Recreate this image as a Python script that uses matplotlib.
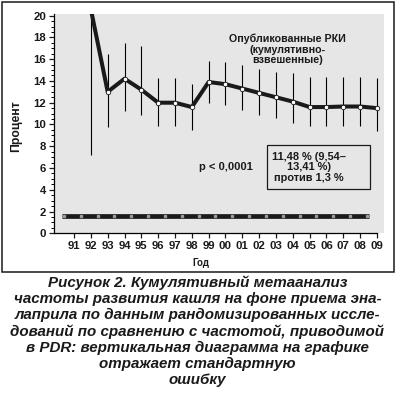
import matplotlib
matplotlib.use("Agg")
import matplotlib.pyplot as plt
from matplotlib.patches import Rectangle
from matplotlib.ticker import MultipleLocator

plt.rcParams["font.family"] = ["Liberation Sans", "DejaVu Sans"]

# cumulative RCT estimates, percent (year 92..109 = 1992..2009)
years = [92, 93, 94, 95, 96, 97, 98, 99, 100, 101, 102, 103, 104, 105, 106, 107, 108, 109]
cough = [20.6, 13.0, 14.2, 13.2, 12.0, 12.0, 11.6, 13.9, 13.7, 13.3, 12.9, 12.5, 12.1, 11.6, 11.6, 11.65, 11.65, 11.5]
err_low = [7.2, 9.8, 11.2, 10.9, 9.9, 9.9, 9.5, 12.0, 11.8, 11.3, 10.9, 10.55, 10.15, 9.85, 9.85, 9.85, 9.85, 9.4]
err_high = [34.0, 16.5, 17.5, 17.2, 14.25, 14.25, 13.7, 15.85, 15.7, 15.45, 15.1, 14.85, 14.7, 14.4, 14.4, 14.4, 14.4, 14.25]

# PDR reference rate
pdr_start, pdr_end = 90.3, 108.5
pdr_marks = [90.4 + i for i in range(19)]
pdr_value = 1.6

tick_years = list(range(91, 110))
tick_labels = ["91", "92", "93", "94", "95", "96", "97", "98", "99",
               "00", "01", "02", "03", "04", "05", "06", "07", "08", "09"]

fig = plt.figure(figsize=(3.95, 3.93), dpi=100)
ax = fig.add_axes([54 / 395, 1 - 233.3 / 393, 330 / 395, (233.3 - 14) / 393])
ax.set_facecolor("#e6e6e6")

ax.vlines(years, err_low, err_high, color="black", lw=0.8, zorder=2)
ax.plot(years, cough, color="#1a1a1a", lw=2.9, zorder=3,
        marker="o", markersize=3.2, markerfacecolor="white",
        markeredgecolor="#1a1a1a", markeredgewidth=0.6)

ax.plot([pdr_start, pdr_end], [pdr_value, pdr_value], color="#1a1a1a", lw=3.4,
        solid_capstyle="butt", zorder=3)
ax.plot(pdr_marks, [pdr_value] * len(pdr_marks), ls="none", marker="s",
        markersize=1.6, color="#9a9a9a", zorder=4)

ax.set_xlim(89.81, 109.42)
ax.set_ylim(0, 20.15)
ax.set_xticks(tick_years)
ax.set_xticklabels(tick_labels)
ax.yaxis.set_major_locator(MultipleLocator(2))
ax.yaxis.set_minor_locator(MultipleLocator(0.5))
ax.tick_params(axis="both", which="major", length=3.6, width=0.9, labelsize=8.2,
               colors="#1a1a1a", pad=2)
ax.tick_params(axis="y", which="minor", length=2.3, width=0.7)
for lab in ax.get_xticklabels() + ax.get_yticklabels():
    lab.set_fontweight("bold")

for s in ["top", "right"]:
    ax.spines[s].set_visible(False)
ax.spines["left"].set_linewidth(0.9)
ax.spines["bottom"].set_linewidth(0.9)
ax.spines["bottom"].set_bounds(89.81, 109)

ax.set_ylabel("Процент", fontsize=8.8, fontweight="bold", color="#1a1a1a")
ax.yaxis.set_label_coords((22 - 54) / 330, 0.49)

ax.text(103.7, 16.9, "Опубликованные РКИ\n(кумулятивно-\nвзвешенные)",
        ha="center", va="center", fontsize=7.7, fontweight="bold",
        color="#1a1a1a", linespacing=1.05)
ax.text(100.0, 6.1, "p < 0,0001", ha="center", va="center", fontsize=8.0,
        fontweight="bold", color="#1a1a1a")
ax.text(104.96, 6.08, "11,48 % (9,54–\n13,41 %)\nпротив 1,3 %", ha="center",
        va="center", fontsize=7.9, fontweight="bold", color="#1a1a1a",
        linespacing=1.05)
ax.add_patch(Rectangle((102.47, 4.06), 6.12, 4.04, fill=False,
                       edgecolor="#1a1a1a", linewidth=0.9, zorder=5))

fig.text(201 / 395, 1 - 263 / 393, "Год", ha="center", va="center",
         fontsize=7, fontweight="bold", color="#1a1a1a")

fig.patches.append(Rectangle((1.5 / 395, 1 - 271.5 / 393), 392 / 395, 269.5 / 393,
                             transform=fig.transFigure, fill=False,
                             edgecolor="#1a1a1a", linewidth=1.1))

caption = ("Рисунок 2. Кумулятивный метаанализ\n"
           "частоты развития кашля на фоне приема эна-\n"
           "лаприла по данным рандомизированных иссле-\n"
           "дований по сравнению с частотой, приводимой\n"
           "в PDR: вертикальная диаграмма на графике\n"
           "отражает стандартную\n"
           "ошибку")
fig.text(0.5, 1 - 275 / 393, caption, ha="center", va="top", fontsize=10.9,
         fontweight="bold", fontstyle="italic", color="#1a1a1a",
         linespacing=1.19)

fig.savefig("out.png", dpi=100)
